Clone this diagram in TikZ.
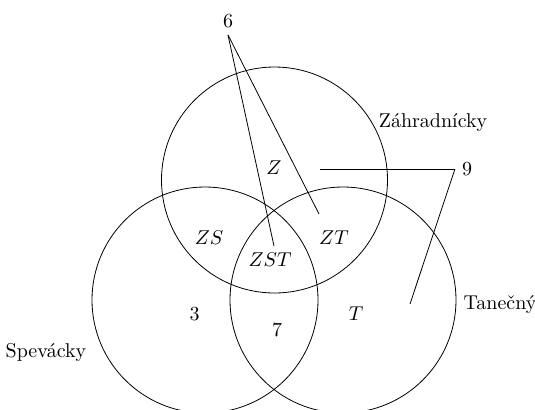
\documentclass[tikz,border=0pt]{standalone}
\usepackage{fontspec}
\usetikzlibrary{positioning}
\tikzset{
  set/.style={draw,circle,minimum size=113pt,inner sep=0pt},
  num/.style={inner sep=3.33pt}
}
\begin{document}
\begin{tikzpicture}[x=0.5pt,y=-0.5pt]
  \useasboundingbox (0,0) rectangle (535,409);
  % the three sets
  \begin{scope}
    \clip (0,0) rectangle (535,409);
    \node[set] (zah) at (274.5,180) {};
    \node[set] (spev) at (205,300) {};
    \node[set] (tan) at (343,300) {};
  \end{scope}
  % set names
  \node (zahlab) at (433,123) {Záhradnícky};
  \node (spevlab) at (46,352) {Spevácky};
  \node (tanlab) at (500,305) {Tanečný};
  % regions
  \node (z) at (274,168) {$Z$};
  \node (zs) at (209,238) {$ZS$};
  \node (zt) at (334,238) {$ZT$};
  \node (zst) at (270,260) {$ZST$};
  \node (s) at (194.5,314) {3};
  \node (st) at (277,330) {7};
  \node (t) at (356,314) {$T$};
  % counts with pointers
  \node[num] (six) at (228,21) {6};
  \node[num] (nine) at (467,169) {9};
  \coordinate (a6) at (274,246);
  \coordinate (b6) at (319,214);
  \coordinate (a9) at (320,169);
  \coordinate (b9) at (410,304);
  \draw (six.south) -- (a6);
  \draw (six.south) -- (b6);
  \draw (nine.west) -- (a9);
  \draw (nine.west) -- (b9);
\end{tikzpicture}
\end{document}
